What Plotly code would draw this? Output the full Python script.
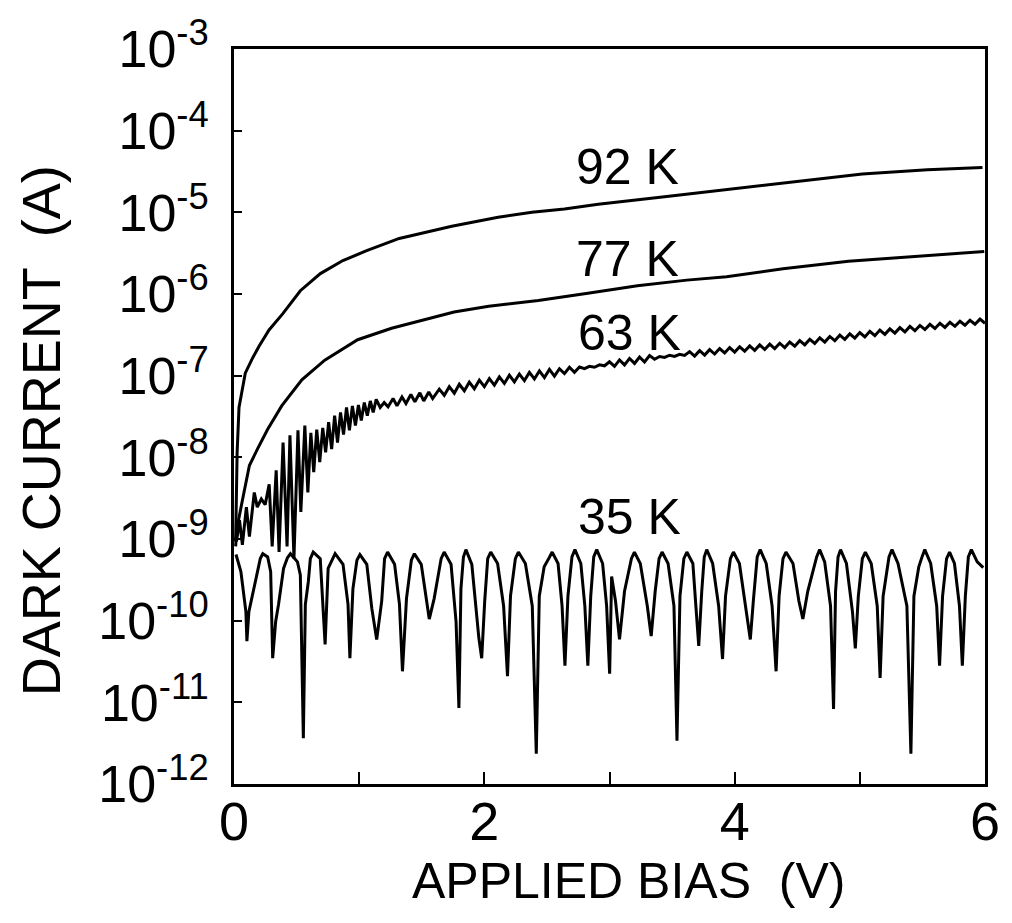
import plotly.graph_objects as go

# Applied bias (V) and log10 of dark current (A) for each temperature
bias_92k = [0.013, 0.025, 0.04, 0.066, 0.09, 0.15, 0.2, 0.28, 0.39, 0.53, 0.69, 0.87,
            1.06, 1.32, 1.58, 1.74, 2.11, 2.38, 2.64, 2.91, 3.44, 3.96, 4.49, 5.02, 5.54, 5.98]
logi_92k = [-9.03, -7.94, -7.39, -7.15, -6.97, -6.78, -6.64, -6.44, -6.24, -5.96, -5.75, -5.59,
            -5.47, -5.32, -5.23, -5.17, -5.06, -5.00, -4.96, -4.90, -4.81, -4.72, -4.62, -4.53, -4.48, -4.45]

bias_77k = [0.013, 0.022, 0.064, 0.123, 0.187, 0.268, 0.381, 0.542, 0.725, 0.988, 1.259, 1.520,
            1.758, 2.035, 2.431, 2.827, 3.223, 3.618, 3.935, 4.386, 4.909, 5.439, 5.994]
logi_77k = [-9.09, -8.88, -8.55, -8.10, -7.90, -7.66, -7.37, -7.05, -6.81, -6.56, -6.42, -6.32,
            -6.22, -6.15, -6.08, -5.99, -5.90, -5.83, -5.79, -5.69, -5.60, -5.54, -5.48]

bias_63k = [0.020, 0.044, 0.067, 0.099, 0.123, 0.162, 0.186, 0.218, 0.249, 0.281, 0.305, 0.337,
            0.360, 0.392, 0.424, 0.447, 0.479, 0.511, 0.534, 0.566, 0.590, 0.614, 0.637, 0.661,
            0.685, 0.709, 0.732, 0.756, 0.780, 0.804, 0.827, 0.851, 0.875, 0.899, 0.922, 0.946,
            0.970, 0.994, 1.017, 1.041, 1.065, 1.089, 1.112, 1.136, 1.168, 1.200, 1.231, 1.271,
            1.302, 1.342, 1.374, 1.413, 1.445, 1.485, 1.516, 1.556, 1.587,
            1.64, 1.68, 1.72, 1.76, 1.80, 1.84, 1.88, 1.92, 1.96, 2.00, 2.04, 2.08, 2.12, 2.16,
            2.20, 2.24, 2.28, 2.32, 2.36, 2.40, 2.44, 2.48, 2.52, 2.56, 2.60, 2.64, 2.68, 2.72,
            2.76, 2.80, 2.84, 2.88, 2.92, 2.96, 3.00, 3.04, 3.08, 3.12, 3.16, 3.20, 3.24, 3.28,
            3.32, 3.36, 3.40, 3.44, 3.48, 3.52, 3.56, 3.60, 3.64, 3.68, 3.72, 3.76, 3.80, 3.84,
            3.88, 3.92, 3.96, 4.00, 4.04, 4.08, 4.12, 4.16, 4.20, 4.24, 4.28, 4.32, 4.36, 4.40,
            4.44, 4.48, 4.52, 4.56, 4.60, 4.64, 4.68, 4.72, 4.76, 4.80, 4.84, 4.88, 4.92, 4.96,
            5.00, 5.04, 5.08, 5.12, 5.16, 5.20, 5.24, 5.28, 5.32, 5.36, 5.40, 5.44, 5.48, 5.52,
            5.56, 5.60, 5.64, 5.68, 5.72, 5.76, 5.80, 5.84, 5.88, 5.92, 5.96, 6.00]
logi_63k = [-9.03, -8.77, -9.07, -8.61, -8.97, -8.43, -8.61, -8.51, -8.58, -8.33, -9.09, -8.16,
            -9.16, -7.82, -9.09, -7.73, -9.24, -7.67, -8.67, -7.61, -8.43, -7.70, -8.18, -7.66,
            -8.06, -7.64, -7.94, -7.57, -7.90, -7.49, -7.82, -7.45, -7.72, -7.39, -7.67, -7.37,
            -7.61, -7.36, -7.55, -7.33, -7.49, -7.31, -7.45, -7.29, -7.39, -7.33, -7.38, -7.28,
            -7.37, -7.26, -7.34, -7.23, -7.32, -7.21, -7.31, -7.20, -7.28,
            -7.165, -7.24, -7.135, -7.215, -7.105, -7.185, -7.08, -7.16, -7.055, -7.135, -7.035,
            -7.115, -7.015, -7.095, -6.995, -7.075, -6.98, -7.06, -6.96, -7.04, -6.942, -7.023,
            -6.924, -7.005, -6.915, -6.975, -6.897, -6.958, -6.894, -6.915, -6.886, -6.897,
            -6.868, -6.879, -6.83, -6.886, -6.807, -6.868, -6.789, -6.85, -6.771, -6.833, -6.755,
            -6.80, -6.765, -6.777, -6.75, -6.764, -6.738, -6.752, -6.706, -6.76, -6.694, -6.748,
            -6.682, -6.735, -6.668, -6.722, -6.656, -6.711, -6.646, -6.70, -6.635, -6.69, -6.624,
            -6.679, -6.614, -6.668, -6.603, -6.656, -6.588, -6.639, -6.571, -6.622, -6.554,
            -6.606, -6.537, -6.589, -6.52, -6.572, -6.504, -6.555, -6.487, -6.54, -6.472, -6.525,
            -6.457, -6.51, -6.442, -6.494, -6.427, -6.479, -6.412, -6.464, -6.397, -6.449,
            -6.385, -6.434, -6.372, -6.422, -6.359, -6.409, -6.346, -6.396, -6.334, -6.383,
            -6.321, -6.37, -6.308, -6.358]

# 35 K trace as (bias V, log10 current) pairs, one oscillation per row
points_35k = [
    (0.016, -9.19), (0.055, -9.40), (0.095, -9.89), (0.103, -10.25),
    (0.119, -9.89), (0.158, -9.61), (0.190, -9.40), (0.21, -9.24), (0.230, -9.18), (0.269, -9.22), (0.293, -9.40), (0.309, -10.46),
    (0.333, -10.01), (0.356, -9.80), (0.396, -9.36), (0.427, -9.23), (0.451, -9.18), (0.507, -9.28), (0.530, -9.44), (0.554, -11.44),
    (0.570, -9.80), (0.594, -9.52), (0.61, -9.24), (0.633, -9.16), (0.689, -9.24), (0.713, -9.89), (0.728, -10.29),
    (0.752, -9.36), (0.785, -9.24), (0.808, -9.18), (0.871, -9.31), (0.911, -9.80), (0.926, -10.46),
    (0.950, -9.61), (0.982, -9.26), (1.006, -9.19), (1.061, -9.31), (1.101, -9.85), (1.140, -10.23),
    (1.180, -9.76), (1.203, -9.24), (1.227, -9.16), (1.283, -9.31), (1.322, -9.80), (1.346, -10.62),
    (1.378, -9.73), (1.417, -9.26), (1.441, -9.18), (1.496, -9.31), (1.544, -9.80), (1.560, -9.98),
    (1.599, -9.73), (1.655, -9.24), (1.679, -9.16), (1.734, -9.31), (1.774, -10.01), (1.797, -11.07),
    (1.813, -9.61), (1.833, -9.22), (1.853, -9.13), (1.900, -9.31), (1.956, -10.21), (1.979, -10.46),
    (2.003, -9.76), (2.027, -9.24), (2.051, -9.16), (2.106, -9.30), (2.154, -9.82), (2.185, -10.68),
    (2.209, -9.70), (2.248, -9.24), (2.272, -9.16), (2.328, -9.30), (2.383, -9.82), (2.415, -11.63),
    (2.439, -9.70), (2.478, -9.34), (2.518, -9.23), (2.542, -9.16), (2.589, -9.30), (2.621, -9.82), (2.644, -10.55),
    (2.668, -9.70), (2.700, -9.22), (2.724, -9.13), (2.771, -9.30), (2.803, -9.82), (2.827, -10.55),
    (2.850, -9.70), (2.874, -9.22), (2.898, -9.13), (2.945, -9.30), (2.977, -9.82), (3.001, -10.65),
    (3.017, -9.46), (3.048, -9.76), (3.080, -10.23),
    (3.120, -9.64), (3.175, -9.24), (3.199, -9.16), (3.246, -9.30), (3.302, -9.82), (3.333, -10.19),
    (3.365, -9.64), (3.396, -9.24), (3.420, -9.16), (3.468, -9.30), (3.515, -9.82), (3.539, -11.47),
    (3.563, -9.70), (3.594, -9.24), (3.618, -9.16), (3.666, -9.30), (3.690, -9.82), (3.713, -10.31),
    (3.737, -9.64), (3.757, -9.22), (3.777, -9.13), (3.824, -9.30), (3.872, -9.82), (3.903, -10.47),
    (3.927, -9.70), (3.966, -9.24), (3.990, -9.16), (4.038, -9.30), (4.093, -9.89), (4.125, -10.23),
    (4.149, -9.76), (4.180, -9.22), (4.204, -9.13), (4.252, -9.30), (4.299, -9.82), (4.331, -10.62),
    (4.355, -9.70), (4.386, -9.24), (4.410, -9.16), (4.466, -9.30), (4.513, -9.76), (4.545, -9.98),
    (4.584, -9.64), (4.655, -9.22), (4.679, -9.13), (4.719, -9.28), (4.766, -9.82), (4.790, -11.08),
    (4.806, -9.64), (4.826, -9.22), (4.846, -9.13), (4.893, -9.30), (4.941, -9.89), (4.964, -10.34),
    (4.988, -9.70), (5.020, -9.24), (5.044, -9.16), (5.091, -9.30), (5.139, -9.82), (5.162, -10.70),
    (5.186, -9.70), (5.233, -9.22), (5.257, -9.13), (5.305, -9.30), (5.376, -9.82), (5.408, -11.63),
    (5.432, -9.70), (5.471, -9.34), (5.499, -9.21), (5.519, -9.13), (5.566, -9.30), (5.614, -9.82), (5.637, -10.55),
    (5.661, -9.70), (5.693, -9.24), (5.717, -9.16), (5.756, -9.30), (5.796, -9.82), (5.819, -10.55),
    (5.843, -9.70), (5.867, -9.22), (5.891, -9.13), (5.938, -9.28), (5.986, -9.35),
]
bias_35k = [p[0] for p in points_35k]
logi_35k = [p[1] for p in points_35k]

# Curve labels: text, bias position, log10 current position
label_text = ["92 K", "77 K", "63 K", "35 K"]
label_bias = [3.14, 3.14, 3.16, 3.16]
label_logi = [-4.44, -5.57, -6.48, -8.73]

y_tick_exps = list(range(-12, -2))
x_tick_vals = [0, 1, 2, 3, 4, 5, 6]
x_tick_text = ["0", "", "2", "", "4", "", "6"]

FONT = "Liberation Sans, Arial, Helvetica, sans-serif"

fig = go.Figure()
for bias, logi in [(bias_92k, logi_92k), (bias_77k, logi_77k),
                   (bias_63k, logi_63k), (bias_35k, logi_35k)]:
    fig.add_trace(go.Scatter(
        x=bias, y=[10 ** e for e in logi], mode="lines",
        line=dict(color="black", width=3.0), showlegend=False, hoverinfo="skip"))

for txt, xb, ly in zip(label_text, label_bias, label_logi):
    fig.add_annotation(x=xb, y=ly, xref="x", yref="y", text=txt, showarrow=False,
                       xanchor="center", yanchor="middle",
                       font=dict(family=FONT, size=50, color="black"))

fig.add_annotation(x=0.525, y=-0.132, xref="paper", yref="paper",
                   text="APPLIED BIAS&nbsp;&nbsp;(V)", showarrow=False,
                   xanchor="center", yanchor="middle",
                   font=dict(family=FONT, size=50, color="black"))
fig.add_annotation(x=-0.256, y=0.481, xref="paper", yref="paper",
                   text="DARK CURRENT&nbsp;&nbsp;(A)", showarrow=False, textangle=-90,
                   xanchor="center", yanchor="middle",
                   font=dict(family=FONT, size=54, color="black"))

fig.update_xaxes(range=[0, 6], tickvals=x_tick_vals, ticktext=x_tick_text,
                 ticks="inside", ticklen=12, tickwidth=2, tickcolor="black",
                 ticklabelstandoff=-12,
                 showline=True, linecolor="black", linewidth=2.8, mirror=True,
                 showgrid=False, zeroline=False,
                 tickfont=dict(family=FONT, size=54, color="black"))
fig.update_yaxes(type="log", range=[-12, -3],
                 tickvals=[10 ** e for e in y_tick_exps],
                 ticktext=["10<sup>%d</sup>" % e for e in y_tick_exps],
                 ticks="inside", ticklen=8, tickwidth=2, tickcolor="black",
                 ticklabelstandoff=12,
                 showline=True, linecolor="black", linewidth=2.8, mirror=True,
                 showgrid=False, zeroline=False,
                 tickfont=dict(family=FONT, size=52, color="black"))

fig.update_layout(width=1012, height=923, paper_bgcolor="white", plot_bgcolor="white",
                  margin=dict(l=234, r=20, t=44, b=139), showlegend=False)

fig.write_html("out.html")
